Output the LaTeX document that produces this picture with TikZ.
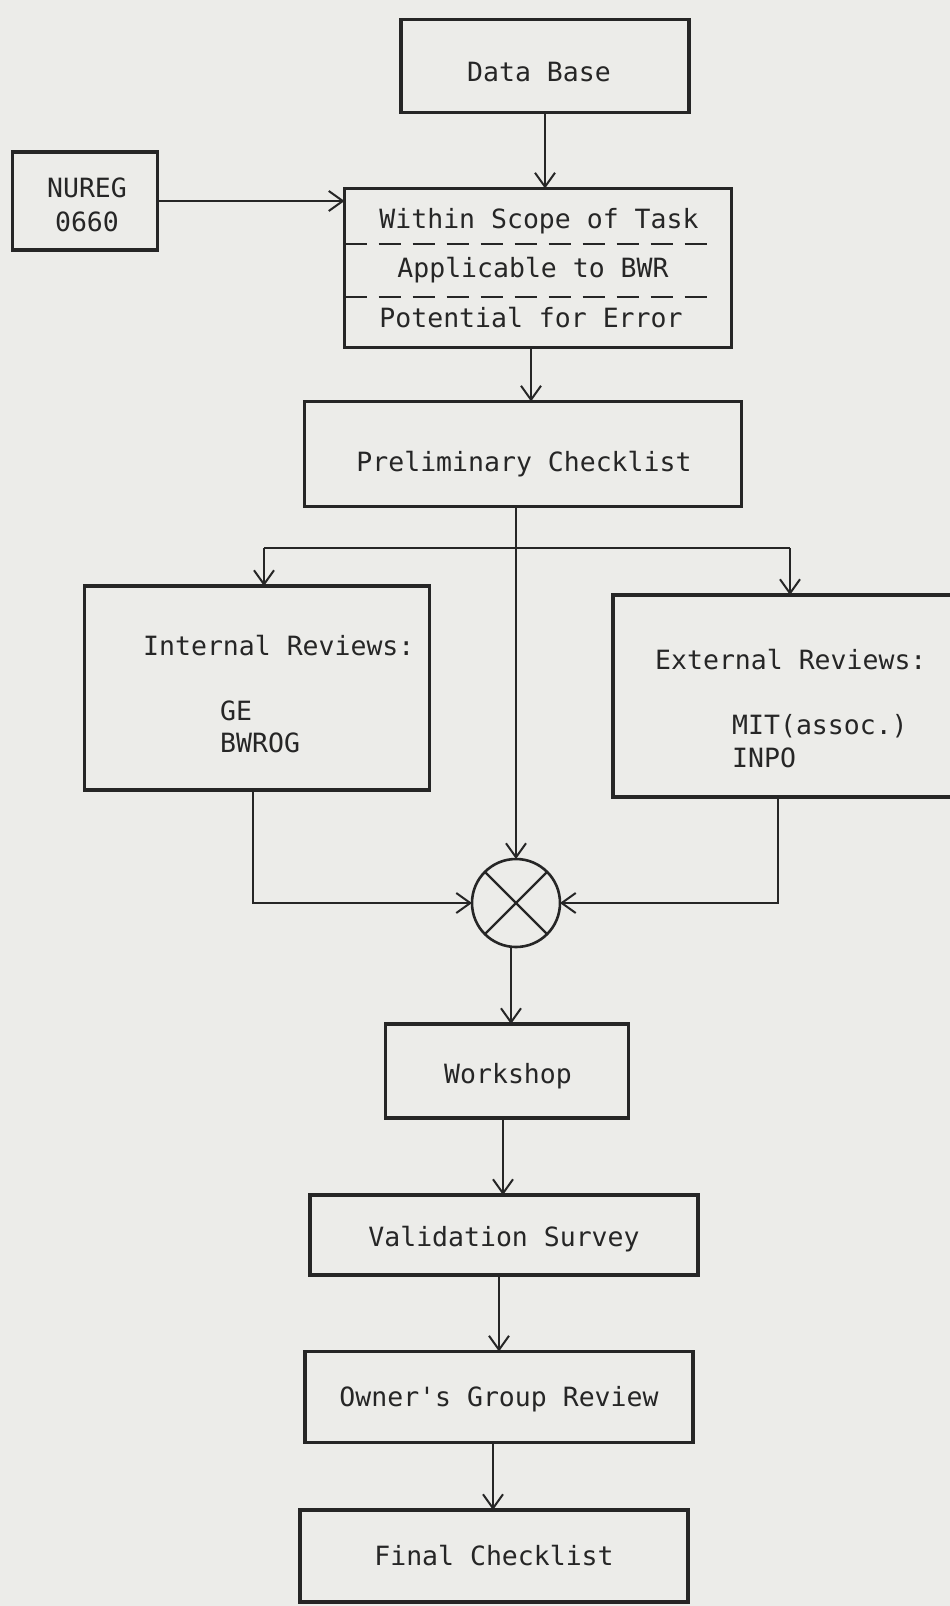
\documentclass[tikz,border=0pt]{standalone}
\usepackage{fontspec}
\setmainfont{DejaVu Sans Mono}
\usetikzlibrary{arrows.meta,calc}
\definecolor{bg}{RGB}{236,236,233}
\definecolor{ink}{RGB}{38,38,38}
\newcommand\fsz{\fontsize{26.5}{34}\selectfont}
\begin{document}
\begin{tikzpicture}[x=1pt,y=-1pt,
  box/.style={draw=ink, line width=3.2pt, inner sep=0pt, outer sep=0pt,
    text height=19pt, text depth=0pt, font=\fsz, text=ink},
  txt/.style={inner sep=0pt, text height=19pt, text depth=0pt, font=\fsz, text=ink},
  ltxt/.style={txt, anchor=west},
  conn/.style={draw=ink, line width=2pt},
  arr/.style={conn, -{Straight Barb[length=14pt,width=20pt,line width=2pt]}},
  sep/.style={draw=ink, line width=2.6pt, dash pattern=on 22pt off 12pt}]
\useasboundingbox (0,0) rectangle (950,1606);
\fill[bg] (0,0) rectangle (950,1606);

% boxes
\node[box, minimum width=288, minimum height=93] (db) at (545,66) {};
\node[txt] (dbt) at (539,72) {Data Base};
\node[box, minimum width=145, minimum height=98] (nureg) at (85,201) {};
\node[txt] (n1) at (87,188) {NUREG};
\node[txt] (n2) at (87,222) {0660};
\node[box, minimum width=387, minimum height=159] (scope) at (538,268) {};
\node[txt] (t1) at (539,219) {Within Scope of Task};
\node[txt] (t2) at (533,268) {Applicable to BWR};
\node[txt] (t3) at (531,318) {Potential for Error};
\draw[sep] ($(scope.west)+(0,-24)$) -- ($(scope.east)+(-14,-24)$);
\draw[sep] ($(scope.west)+(0,29)$) -- ($(scope.east)+(-14,29)$);

\node[box, minimum width=437, minimum height=105] (prelim) at (523,454) {};
\node[txt] (pt) at (524,462) {Preliminary Checklist};

\node[box, minimum width=345, minimum height=204] (int) at (257,688) {};
\node[ltxt] (i1) at (143,646) {Internal Reviews:};
\node[ltxt] (i2) at (220,711) {GE};
\node[ltxt] (i3) at (220,743) {BWROG};

\node[box, minimum width=350, minimum height=202] (ext) at (788,696) {};
\node[ltxt] (e1) at (655,660) {External Reviews:};
\node[ltxt] (e2) at (732,725) {MIT(assoc.)};
\node[ltxt] (e3) at (732,758) {INPO};

\node[draw=ink, circle, line width=2.6pt, minimum size=88, inner sep=0pt, outer sep=0pt] (circ) at (516,903) {};
\draw[conn, line width=2.2pt] (circ.45) -- (circ.225);
\draw[conn, line width=2.2pt] (circ.135) -- (circ.315);

\node[box, minimum width=243, minimum height=94] (ws) at (507,1071) {};
\node[txt] (wst) at (508,1074) {Workshop};
\node[box, minimum width=388, minimum height=80] (val) at (504,1235) {};
\node[txt] (valt) at (504,1237) {Validation Survey};
\node[box, minimum width=388, minimum height=91] (own) at (499,1397) {Owner\textquotesingle s Group Review};
\node[box, minimum width=388, minimum height=92] (fin) at (494,1556) {Final Checklist};

% connectors
\draw[arr] (db.south) -- (db.south |- scope.north);
\draw[arr] (nureg.east) -- (nureg.east -| scope.west);
\draw[arr] ([xshift=-7pt]scope.south) -- ([xshift=-7pt]scope.south |- prelim.north);
\draw[arr] (circ.north |- prelim.south) -- (circ.north);
\coordinate (bl) at (264,548);
\coordinate (br) at (790,548);
\draw[conn] (bl) -- (br);
\draw[arr] (bl) -- (bl |- int.north);
\draw[arr] (br) -- (br |- ext.north);
\draw[arr] ([xshift=-4pt]int.south) |- (circ.west);
\draw[arr] ([xshift=-10pt]ext.south) |- (circ.east);
\draw[arr] ([xshift=-5pt]circ.south) -- ([xshift=-5pt]circ.south |- ws.north);
\draw[arr] ([xshift=-4pt]ws.south) -- ([xshift=-4pt]ws.south |- val.north);
\draw[arr] ([xshift=-5pt]val.south) -- ([xshift=-5pt]val.south |- own.north);
\draw[arr] ([xshift=-6pt]own.south) -- ([xshift=-6pt]own.south |- fin.north);
\end{tikzpicture}
\end{document}
